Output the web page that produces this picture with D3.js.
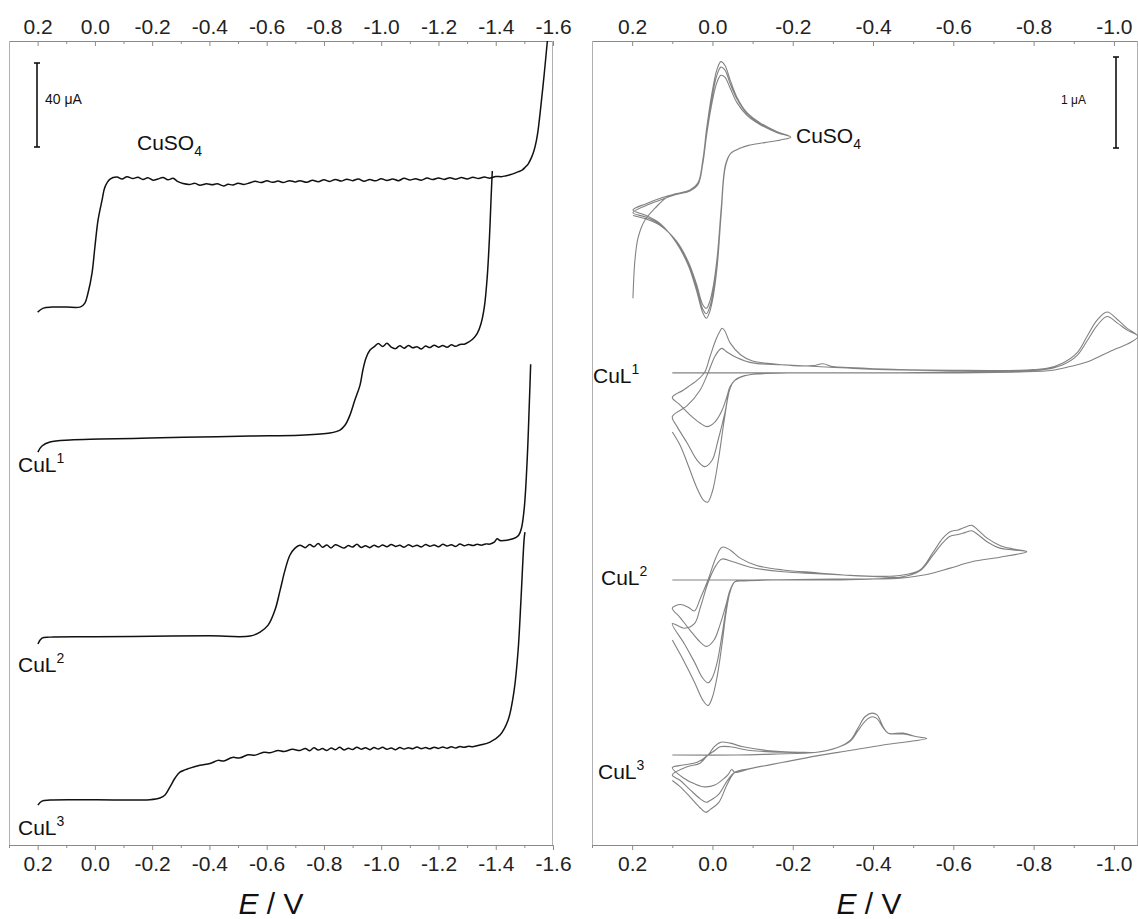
<!DOCTYPE html>
<html><head><meta charset="utf-8">
<script src="https://cdn.jsdelivr.net/npm/d3@7"></script>
<style>
body{margin:0;background:#fff;}
svg text{font-family:Arial,"Liberation Sans",Helvetica,sans-serif;}
</style>
</head><body>
<svg id="chart" width="1138" height="919"></svg>
<script>
// ---------- tick values ----------
const leftTicks = [0.2,0.0,-0.2,-0.4,-0.6,-0.8,-1.0,-1.2,-1.4,-1.6];
const leftTickLabels = ["0.2","0.0","-0.2","-0.4","-0.6","-0.8","-1.0","-1.2","-1.4","-1.6"];
const leftMinor = [0.3,0.1,-0.1,-0.3,-0.5,-0.7,-0.9,-1.1,-1.3,-1.5];
const rightTicks = [0.2,0.0,-0.2,-0.4,-0.6,-0.8,-1.0];
const rightTickLabels = ["0.2","0.0","-0.2","-0.4","-0.6","-0.8","-1.0"];
const rightMinor = [0.3,0.1,-0.1,-0.3,-0.5,-0.7,-0.9];

// ---------- left panel: polarograms  [E / V, I / µA relative to baseline] ----------
const polOffsets = {CuSO4:256, CuL1:194, CuL2:99, CuL3:21.4};
const polCuSO4 = [[0.20,-2.2],[0.18,-0.3],[0.15,0.2],[0.10,0.2],[0.05,0.3],[0.035,2.1],[0.024,6.9],[0.010,16.4],[0.0,28.8],[-0.011,41.6],[-0.025,51.1],[-0.035,57.3],[-0.053,61.1],[-0.077,62.1],[-0.095,61.2],[-0.112,62.3],[-0.133,61.4],[-0.15,62.0],[-0.168,61.0],[-0.185,61.8],[-0.203,60.6],[-0.22,61.2],[-0.238,61.9],[-0.255,60.8],[-0.273,61.5],[-0.29,59.9],[-0.308,59.0],[-0.33,58.6],[-0.35,59.1],[-0.367,58.2],[-0.39,58.9],[-0.41,58.4],[-0.427,58.9],[-0.45,57.9],[-0.465,58.7],[-0.482,58.3],[-0.50,59.2],[-0.52,58.6],[-0.542,59.4],[-0.56,60.1],[-0.58,59.5],[-0.601,60.3],[-0.62,59.6],[-0.64,60.2],[-0.657,59.5],[-0.68,60.4],[-0.70,59.8],[-0.716,60.4],[-0.74,59.6],[-0.76,60.6],[-0.78,59.9],[-0.80,60.8],[-0.82,60.0],[-0.84,61.0],[-0.86,60.2],[-0.88,61.1],[-0.90,60.4],[-0.92,61.2],[-0.94,60.1],[-0.96,60.9],[-0.98,60.3],[-1.00,61.3],[-1.02,60.5],[-1.04,61.2],[-1.06,60.4],[-1.08,61.5],[-1.10,60.7],[-1.12,61.3],[-1.14,60.6],[-1.16,61.6],[-1.18,60.9],[-1.20,61.7],[-1.22,61.0],[-1.24,61.8],[-1.26,61.1],[-1.28,61.9],[-1.30,61.2],[-1.32,62.0],[-1.34,61.4],[-1.36,62.1],[-1.38,61.6],[-1.40,62.4],[-1.42,62.3],[-1.433,62.6],[-1.45,63.2],[-1.467,64.0],[-1.48,64.7],[-1.492,65.4],[-1.503,66.8],[-1.513,68.3],[-1.525,71.5],[-1.534,74.9],[-1.542,79.5],[-1.548,84.5],[-1.558,96.4],[-1.569,110.7],[-1.579,125],[-1.586,134]];
const polCuL1 = [[0.199,-6.9],[0.185,-4.0],[0.157,-2.1],[0.087,-1.1],[-0.018,-0.7],[-0.192,-0.2],[-0.367,0.3],[-0.542,0.8],[-0.716,1.2],[-0.821,2.2],[-0.856,3.6],[-0.874,6.0],[-0.891,10.8],[-0.908,17.9],[-0.926,25.0],[-0.936,32.2],[-0.947,37.9],[-0.961,41.7],[-0.978,43.6],[-0.99,44.8],[-1.005,43.4],[-1.02,44.9],[-1.035,43.1],[-1.05,42.4],[-1.065,43.8],[-1.08,42.6],[-1.095,43.9],[-1.11,42.8],[-1.125,43.3],[-1.14,42.2],[-1.155,43.6],[-1.17,42.9],[-1.185,44.0],[-1.20,43.1],[-1.215,43.9],[-1.23,43.0],[-1.245,44.2],[-1.26,43.5],[-1.275,44.4],[-1.29,44.5],[-1.305,45.5],[-1.32,47.0],[-1.335,49.5],[-1.348,54],[-1.36,62],[-1.37,76],[-1.378,95],[-1.384,115],[-1.388,127]];
const polCuL2 = [[0.199,-3.3],[0.185,-0.5],[0.157,0],[0.0,0.2],[-0.2,0.4],[-0.4,0.6],[-0.542,0.5],[-0.577,2.4],[-0.605,5.7],[-0.629,12.9],[-0.647,22.4],[-0.664,31.9],[-0.681,39.0],[-0.699,42.4],[-0.716,43.8],[-0.735,42.6],[-0.75,44.1],[-0.765,43.0],[-0.78,44.6],[-0.795,42.8],[-0.81,43.9],[-0.825,42.5],[-0.84,44.0],[-0.855,43.2],[-0.87,42.4],[-0.885,43.6],[-0.90,42.9],[-0.915,44.2],[-0.93,42.7],[-0.945,43.5],[-0.96,42.6],[-0.975,43.8],[-0.99,42.9],[-1.005,43.9],[-1.02,43.0],[-1.035,44.1],[-1.05,43.2],[-1.065,43.7],[-1.08,42.8],[-1.095,44.0],[-1.11,43.1],[-1.125,43.8],[-1.14,42.9],[-1.155,44.1],[-1.17,43.3],[-1.185,43.9],[-1.20,43.0],[-1.215,44.2],[-1.23,43.4],[-1.245,44.0],[-1.26,43.2],[-1.275,44.3],[-1.29,43.5],[-1.305,44.1],[-1.32,43.6],[-1.335,44.2],[-1.35,43.8],[-1.365,44.4],[-1.38,44.3],[-1.395,45.2],[-1.405,46.8],[-1.415,46.0],[-1.43,46.0],[-1.45,46.5],[-1.47,47.4],[-1.48,48.5],[-1.49,52],[-1.50,62],[-1.51,85],[-1.517,110],[-1.522,130]];
const polCuL3 = [[0.199,-2.4],[0.185,-0.5],[0.157,0],[0.0,0.1],[-0.192,0.2],[-0.227,1.0],[-0.245,2.4],[-0.262,6.2],[-0.280,10.5],[-0.297,13.3],[-0.332,15.2],[-0.367,16.6],[-0.402,17.4],[-0.43,18.9],[-0.45,18.6],[-0.48,20.3],[-0.507,20.1],[-0.535,21.6],[-0.56,21.4],[-0.59,22.8],[-0.612,22.5],[-0.64,23.6],[-0.66,23.1],[-0.69,24.2],[-0.716,23.6],[-0.735,24.6],[-0.75,23.5],[-0.765,24.9],[-0.78,23.8],[-0.795,24.5],[-0.81,23.6],[-0.825,24.8],[-0.84,24.0],[-0.855,25.1],[-0.87,23.9],[-0.885,24.7],[-0.90,24.1],[-0.915,25.2],[-0.93,24.2],[-0.945,24.9],[-0.96,24.0],[-0.975,25.0],[-0.99,24.3],[-1.005,25.1],[-1.02,24.2],[-1.035,24.8],[-1.05,24.0],[-1.065,25.0],[-1.08,24.3],[-1.095,24.9],[-1.11,24.4],[-1.125,25.3],[-1.14,24.5],[-1.155,25.0],[-1.17,24.4],[-1.185,25.2],[-1.20,24.6],[-1.215,25.3],[-1.23,24.7],[-1.245,25.4],[-1.26,24.8],[-1.275,25.5],[-1.29,25.1],[-1.305,25.6],[-1.32,25.4],[-1.345,26.2],[-1.38,27.6],[-1.415,31],[-1.443,38],[-1.464,52],[-1.478,71],[-1.488,95],[-1.499,124],[-1.502,127.6]];

// ---------- right panel: cyclic voltammograms  [E / V, I / µA relative to zero line] ----------
const cvOffsets = {CuSO4:7.747, CuL1:5.187, CuL2:2.912, CuL3:0.989};
// CuSO4
const cv0Init = [[0.198,-1.74],[0.193,-1.32],[0.185,-1.07],[0.168,-0.88],[0.143,-0.75],[0.113,-0.63]];
const cv0Up1 = [[0.113,-0.63],[0.085,-0.59],[0.056,-0.55],[0.036,-0.47],[0.024,-0.22],[0.014,0.14],[0.001,0.52],[-0.011,0.77],[-0.021,0.86],[-0.031,0.82],[-0.044,0.66],[-0.061,0.47],[-0.086,0.30],[-0.118,0.19],[-0.161,0.09],[-0.195,0.03]];
const cv0Low1 = [[-0.195,0.03],[-0.17,0.0],[-0.13,-0.03],[-0.09,-0.06],[-0.07,-0.09],[-0.045,-0.15],[-0.032,-0.30],[-0.022,-0.80],[-0.012,-1.38],[-0.002,-1.72],[0.007,-1.89],[0.015,-1.96],[0.024,-1.90],[0.04,-1.65],[0.06,-1.38],[0.09,-1.13],[0.13,-0.92],[0.165,-0.83],[0.198,-0.77]];
const cv0Up2 = [[0.198,-0.77],[0.165,-0.70],[0.13,-0.64],[0.09,-0.59],[0.056,-0.55],[0.036,-0.48],[0.024,-0.24],[0.014,0.11],[0.001,0.47],[-0.011,0.71],[-0.021,0.80],[-0.031,0.77],[-0.044,0.62],[-0.061,0.45],[-0.086,0.29],[-0.118,0.18],[-0.161,0.09],[-0.195,0.03]];
const cv0Low2 = [[-0.195,0.03],[-0.17,0.0],[-0.13,-0.03],[-0.09,-0.06],[-0.07,-0.09],[-0.045,-0.15],[-0.032,-0.29],[-0.022,-0.77],[-0.012,-1.33],[-0.002,-1.67],[0.007,-1.84],[0.015,-1.91],[0.024,-1.86],[0.04,-1.62],[0.06,-1.36],[0.09,-1.12],[0.13,-0.93],[0.165,-0.85],[0.198,-0.80]];
const cv0Up3 = [[0.198,-0.80],[0.165,-0.72],[0.13,-0.66],[0.09,-0.60],[0.056,-0.56],[0.036,-0.49],[0.024,-0.26],[0.014,0.07],[0.001,0.41],[-0.011,0.63],[-0.021,0.71],[-0.031,0.69],[-0.044,0.57],[-0.061,0.41],[-0.086,0.27],[-0.118,0.17],[-0.161,0.08],[-0.195,0.03]];
const cv0Low3 = [[-0.195,0.03],[-0.17,0.0],[-0.13,-0.03],[-0.09,-0.06],[-0.07,-0.09],[-0.045,-0.15],[-0.032,-0.28],[-0.022,-0.74],[-0.012,-1.28],[-0.002,-1.61],[0.007,-1.78],[0.015,-1.85],[0.024,-1.81],[0.04,-1.58],[0.06,-1.34],[0.09,-1.11],[0.13,-0.94],[0.165,-0.87],[0.198,-0.83]];
// CuL1
const cv1First = [[0.10,0.0],[0.0,0.0],[-0.2,0.0],[-0.4,0.0],[-0.6,0.01],[-0.766,0.02]];
const cv1PeakA = [[-0.766,0.03],[-0.833,0.05],[-0.873,0.11],[-0.908,0.22],[-0.933,0.40],[-0.958,0.58],[-0.983,0.67],[-1.008,0.59],[-1.033,0.49],[-1.06,0.40]];
const cv1PeakB = [[-0.766,0.02],[-0.833,0.04],[-0.873,0.09],[-0.908,0.19],[-0.933,0.35],[-0.958,0.52],[-0.983,0.62],[-1.008,0.55],[-1.033,0.47],[-1.06,0.40]];
const cv1Ret = [[-1.06,0.40],[-1.035,0.32],[-1.008,0.27],[-0.973,0.20],[-0.933,0.12],[-0.891,0.07],[-0.848,0.03],[-0.766,0.01],[-0.6,0.0],[-0.4,0.0],[-0.2,0.0],[-0.118,-0.01],[-0.081,-0.03],[-0.056,-0.08]];
const cv1Min1 = [[-0.056,-0.08],[-0.044,-0.15],[-0.036,-0.26],[-0.024,-0.41],[-0.006,-0.54],[0.014,-0.59],[0.031,-0.55],[0.056,-0.46],[0.081,-0.35],[0.10,-0.27]];
const cv1Min2 = [[-0.056,-0.08],[-0.044,-0.16],[-0.031,-0.44],[-0.014,-0.74],[0.001,-0.96],[0.019,-1.03],[0.038,-0.96],[0.063,-0.77],[0.088,-0.59],[0.10,-0.48]];
const cv1Min3 = [[-0.056,-0.08],[-0.044,-0.17],[-0.03,-0.50],[-0.015,-0.95],[0.0,-1.30],[0.012,-1.42],[0.022,-1.40],[0.04,-1.25],[0.06,-1.02],[0.08,-0.80],[0.10,-0.65]];
const cv1Fwd2 = [[0.10,-0.27],[0.073,-0.19],[0.038,-0.08],[0.019,0.01],[0.006,0.18],[-0.009,0.37],[-0.019,0.46],[-0.024,0.49],[-0.031,0.46],[-0.044,0.33],[-0.07,0.20],[-0.10,0.13],[-0.15,0.10],[-0.20,0.08],[-0.25,0.08],[-0.275,0.10],[-0.30,0.07],[-0.34,0.06],[-0.45,0.04],[-0.6,0.03],[-0.766,0.03]];
const cv1Fwd3 = [[0.10,-0.48],[0.063,-0.36],[0.031,-0.19],[0.011,0.0],[-0.006,0.18],[-0.019,0.26],[-0.024,0.27],[-0.036,0.23],[-0.06,0.17],[-0.10,0.11],[-0.176,0.09],[-0.26,0.07],[-0.35,0.05],[-0.5,0.03],[-0.766,0.03]];
// CuL2
const cv2First = [[0.10,0.0],[-0.1,0.0],[-0.3,0.01],[-0.467,0.03]];
const cv2PeakA = [[-0.467,0.05],[-0.517,0.11],[-0.549,0.30],[-0.574,0.46],[-0.592,0.53],[-0.612,0.55],[-0.629,0.58],[-0.646,0.60],[-0.661,0.55],[-0.684,0.46],[-0.716,0.38],[-0.749,0.34],[-0.783,0.31]];
const cv2PeakB = [[-0.467,0.03],[-0.517,0.10],[-0.549,0.27],[-0.574,0.41],[-0.592,0.48],[-0.612,0.50],[-0.629,0.52],[-0.646,0.54],[-0.661,0.50],[-0.684,0.42],[-0.716,0.35],[-0.749,0.33],[-0.783,0.31]];
const cv2Ret = [[-0.783,0.31],[-0.716,0.25],[-0.646,0.20],[-0.592,0.13],[-0.534,0.06],[-0.467,0.02],[-0.4,0.01],[-0.3,0.0],[-0.15,0.0],[-0.08,-0.01],[-0.056,-0.02]];
const cv2Min1 = [[-0.056,-0.02],[-0.044,-0.11],[-0.034,-0.27],[-0.019,-0.49],[-0.004,-0.66],[0.014,-0.73],[0.031,-0.68],[0.056,-0.55],[0.081,-0.41],[0.10,-0.31]];
const cv2Min2 = [[-0.056,-0.02],[-0.044,-0.12],[-0.034,-0.32],[-0.024,-0.60],[-0.011,-0.92],[0.001,-1.08],[0.011,-1.13],[0.024,-1.08],[0.045,-0.90],[0.07,-0.70],[0.10,-0.48]];
const cv2Min3 = [[-0.056,-0.02],[-0.044,-0.13],[-0.034,-0.36],[-0.024,-0.70],[-0.011,-1.08],[0.001,-1.30],[0.011,-1.38],[0.024,-1.32],[0.045,-1.12],[0.07,-0.90],[0.10,-0.66]];
const cv2Fwd2 = [[0.10,-0.31],[0.08,-0.27],[0.06,-0.30],[0.045,-0.34],[0.03,-0.20],[0.011,0.0],[-0.009,0.25],[-0.024,0.36],[-0.044,0.33],[-0.069,0.24],[-0.11,0.16],[-0.176,0.11],[-0.26,0.08],[-0.343,0.05],[-0.425,0.04],[-0.467,0.05]];
const cv2Fwd3 = [[0.10,-0.48],[0.07,-0.53],[0.045,-0.48],[0.03,-0.30],[0.011,-0.03],[-0.009,0.16],[-0.024,0.23],[-0.051,0.20],[-0.094,0.14],[-0.176,0.09],[-0.26,0.07],[-0.4,0.04],[-0.467,0.03]];
// CuL3
const cv3First = [[0.10,0.0],[-0.06,0.0],[-0.15,0.01],[-0.26,0.03]];
const cv3PeakA = [[-0.26,0.03],[-0.31,0.08],[-0.343,0.16],[-0.363,0.30],[-0.38,0.42],[-0.397,0.46],[-0.41,0.44],[-0.425,0.31],[-0.438,0.24],[-0.475,0.24],[-0.509,0.20],[-0.534,0.18]];
const cv3PeakB = [[-0.26,0.03],[-0.31,0.08],[-0.343,0.15],[-0.363,0.27],[-0.38,0.37],[-0.397,0.42],[-0.41,0.40],[-0.425,0.30],[-0.438,0.24],[-0.475,0.23],[-0.509,0.20],[-0.534,0.18]];
const cv3Ret = [[-0.534,0.18],[-0.425,0.11],[-0.343,0.05],[-0.26,-0.01],[-0.176,-0.08],[-0.094,-0.15],[-0.056,-0.19]];
const cv3Min1 = [[-0.056,-0.19],[-0.048,-0.16],[-0.040,-0.21],[-0.031,-0.25],[-0.006,-0.33],[0.019,-0.35],[0.043,-0.32],[0.073,-0.25],[0.10,-0.14]];
const cv3Min2 = [[-0.056,-0.19],[-0.036,-0.29],[-0.016,-0.43],[0.006,-0.50],[0.016,-0.52],[0.031,-0.48],[0.056,-0.38],[0.08,-0.28],[0.10,-0.22]];
const cv3Min3 = [[-0.056,-0.19],[-0.036,-0.33],[-0.016,-0.52],[0.006,-0.60],[0.016,-0.63],[0.031,-0.58],[0.056,-0.46],[0.08,-0.35],[0.10,-0.28]];
const cv3Fwd2 = [[0.10,-0.14],[0.073,-0.11],[0.038,-0.08],[0.011,0.0],[-0.004,0.09],[-0.021,0.14],[-0.044,0.13],[-0.076,0.09],[-0.135,0.05],[-0.218,0.03],[-0.26,0.03]];
const cv3Fwd3 = [[0.10,-0.22],[0.063,-0.13],[0.031,-0.09],[0.011,0.0],[-0.006,0.05],[-0.019,0.09],[-0.044,0.09],[-0.094,0.05],[-0.176,0.03],[-0.26,0.03]];

// ---------- build scans ----------
function joinSegs(...segs){
  const out=[];
  segs.forEach(s=>s.forEach(p=>{
    const l=out[out.length-1];
    if(!l || l[0]!==p[0] || l[1]!==p[1]) out.push(p);
  }));
  return out;
}
const cvScans = [
  {name:"CuSO4", pts: joinSegs(cv0Init,cv0Up1,cv0Low1,cv0Up2,cv0Low2,cv0Up3,cv0Low3)},
  {name:"CuL1", pts: joinSegs(cv1First,cv1PeakB,cv1Ret,cv1Min1,cv1Fwd2,cv1PeakA,cv1Ret,cv1Min2,cv1Fwd3,cv1PeakA,cv1Ret,cv1Min3)},
  {name:"CuL2", pts: joinSegs(cv2First,cv2PeakB,cv2Ret,cv2Min1,cv2Fwd2,cv2PeakA,cv2Ret,cv2Min2,cv2Fwd3,cv2PeakB,cv2Ret,cv2Min3)},
  {name:"CuL3", pts: joinSegs(cv3First,cv3PeakB,cv3Ret,cv3Min1,cv3Fwd2,cv3PeakA,cv3Ret,cv3Min2,cv3Fwd3,cv3PeakA,cv3Ret,cv3Min3)}
];
const polScans = [
  {name:"CuSO4", pts:polCuSO4},{name:"CuL1", pts:polCuL1},{name:"CuL2", pts:polCuL2},{name:"CuL3", pts:polCuL3}
];

// ---------- scales ----------
const frameTop = 41, frameBottom = 845;
const xL = d3.scaleLinear().domain([0.3,-1.6]).range([9,553]);
const yL = d3.scaleLinear().domain([0,381]).range([845,45]);
const xR = d3.scaleLinear().domain([0.3,-1.06]).range([592,1138]);
const yR = d3.scaleLinear().domain([0,8.79]).range([845,45]);

const svg = d3.select("#chart");
const frameCol = "#8a8a8a";

svg.append("defs").html(
 `<clipPath id="clipL"><rect x="9" y="${frameTop}" width="544" height="${frameBottom-frameTop}"/></clipPath>
  <clipPath id="clipR"><rect x="592" y="${frameTop}" width="546" height="${frameBottom-frameTop}"/></clipPath>`);

function drawAxes(x, major, labels, minor, x0, x1){
  const fmt = d => labels[major.indexOf(d)];
  const top = svg.append("g").attr("transform",`translate(0,${frameTop})`)
    .call(d3.axisTop(x).tickValues(major).tickFormat(fmt).tickSize(-5).tickSizeOuter(0).tickPadding(7));
  const topMin = svg.append("g").attr("transform",`translate(0,${frameTop})`)
    .call(d3.axisTop(x).tickValues(minor).tickFormat("").tickSize(-3).tickSizeOuter(0));
  const bot = svg.append("g").attr("transform",`translate(0,${frameBottom})`)
    .call(d3.axisBottom(x).tickValues(major).tickFormat(fmt).tickSize(5).tickSizeOuter(0).tickPadding(6));
  const botMin = svg.append("g").attr("transform",`translate(0,${frameBottom})`)
    .call(d3.axisBottom(x).tickValues(minor).tickFormat("").tickSize(3).tickSizeOuter(0));
  [top,topMin,bot,botMin].forEach(g=>{
    g.select(".domain").attr("stroke",frameCol);
    g.selectAll(".tick line").attr("stroke",frameCol);
    g.selectAll(".tick text").attr("fill","#222").style("font-size","21px").style("font-family","Arial, 'Liberation Sans', sans-serif");
  });
  svg.append("line").attr("x1",x0).attr("x2",x0).attr("y1",frameTop).attr("y2",frameBottom).attr("stroke","#b0b0b0");
  svg.append("line").attr("x1",x1).attr("x2",x1).attr("y1",frameTop).attr("y2",frameBottom).attr("stroke","#b0b0b0");
}
drawAxes(xL, leftTicks, leftTickLabels, leftMinor, 9.5, 552.5);
drawAxes(xR, rightTicks, rightTickLabels, rightMinor, 592.5, 1137.5);

// ---------- curves ----------
const lineL = name => d3.line().x(d=>xL(d[0])).y(d=>yL(d[1]+polOffsets[name])).curve(d3.curveCatmullRom.alpha(0.5));
const lineR = name => d3.line().x(d=>xR(d[0])).y(d=>yR(d[1]+cvOffsets[name])).curve(d3.curveCatmullRom.alpha(0.5));

svg.append("g").attr("clip-path","url(#clipL)").selectAll("path").data(polScans).join("path")
  .attr("d",s=>lineL(s.name)(s.pts)).attr("fill","none").attr("stroke","#111").attr("stroke-width",1.5);

svg.append("g").attr("clip-path","url(#clipR)").selectAll("path").data(cvScans).join("path")
  .attr("d",s=>lineR(s.name)(s.pts)).attr("fill","none").attr("stroke","#828282").attr("stroke-width",1.1);

// ---------- scale bars ----------
function scaleBar(x, yTop, len){
  const g = svg.append("g").attr("stroke","#111").attr("stroke-width",1.6);
  g.append("line").attr("x1",x).attr("x2",x).attr("y1",yTop).attr("y2",yTop+len);
  g.append("line").attr("x1",x-3).attr("x2",x+3).attr("y1",yTop).attr("y2",yTop);
  g.append("line").attr("x1",x-3).attr("x2",x+3).attr("y1",yTop+len).attr("y2",yTop+len);
}
scaleBar(37, 63, yL(0)-yL(40));
scaleBar(1116, 57, yR(0)-yR(1));
svg.append("text").attr("x",45).attr("y",104).style("font-size","14px").attr("fill","#111").text("40 μA");
svg.append("text").attr("x",1061).attr("y",104).style("font-size","12px").attr("fill","#111").text("1 μA");

// ---------- labels ----------
function chemLabel(x, y, base, script, sub){
  const t = svg.append("text").attr("x",x).attr("y",y).style("font-size","21px").attr("fill","#111");
  t.append("tspan").text(base);
  t.append("tspan").attr("dy", sub? 6 : -9).style("font-size","14px").text(script);
}
chemLabel(137,150,"CuSO","4",true);
chemLabel(18,472,"CuL","1",false);
chemLabel(18,672,"CuL","2",false);
chemLabel(18,835,"CuL","3",false);
chemLabel(796,143,"CuSO","4",true);
chemLabel(593,383,"CuL","1",false);
chemLabel(601,585,"CuL","2",false);
chemLabel(598,779,"CuL","3",false);

// ---------- axis titles ----------
function axTitle(cx){
  const t = svg.append("text").attr("x",cx).attr("y",914).attr("text-anchor","middle").style("font-size","30px").attr("fill","#111");
  t.append("tspan").style("font-style","italic").text("E");
  t.append("tspan").text(" / V");
}
axTitle(271);
axTitle(869);
</script>
</body></html>
